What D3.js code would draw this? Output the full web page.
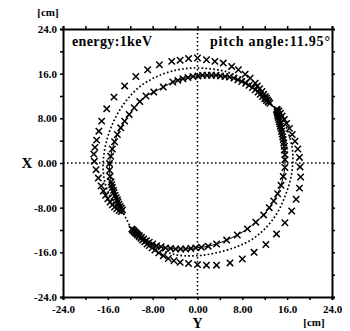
<!DOCTYPE html>
<html>
<head>
<meta charset="utf-8">
<script src="https://cdn.jsdelivr.net/npm/d3@7"></script>
<style>
  body { margin: 0; background: #fff; }
  svg text { font-family: 'Liberation Serif', 'Times New Roman', serif; font-weight: bold; fill: #000; }
</style>
</head>
<body>
<div id="chart"></div>
<script>
// axis ticks and labels
const tickValues = [-24, -20, -16, -12, -8, -4, 0, 4, 8, 12, 16, 20, 24];
const labelValues = [-24, -16, -8, 0, 8, 16, 24];
const labelTexts = ['-24.0', '-16.0', '-8.00', '0.00', '8.00', '16.0', '24.0'];

// points are [V, X] in cm
// outer crosses, first arc (NE -> over the top -> W)
const outerA = [
  [12.9, 10.7], [12.7, 11.0], [12.5, 11.3], [12.3, 11.6], [12.1, 11.9], [11.8, 12.3],
  [11.5, 12.8], [11.1, 13.3], [10.7, 13.8], [10.3, 14.3], [9.4, 15.2], [8.5, 15.9],
  [7.3, 16.7], [6.1, 17.3], [4.6, 17.9], [3.1, 18.2], [1.6, 18.5], [0.0, 18.8],
  [-1.6, 18.7], [-3.1, 18.4], [-4.6, 18.2], [-6.8, 17.6], [-8.9, 16.7], [-11.0, 15.5],
  [-13.0, 13.8], [-14.9, 11.8], [-16.2, 9.7], [-17.1, 7.5], [-17.6, 5.7], [-18.0, 4.1],
  [-18.3, 2.8], [-18.5, 1.6], [-18.4, 0.3], [-18.1, -1.2], [-17.7, -2.7], [-17.2, -4.1],
  [-16.8, -5.0], [-16.4, -5.8], [-16.0, -6.4], [-15.6, -7.0], [-15.2, -7.5], [-14.8, -7.9],
  [-14.4, -8.2], [-14.0, -8.5], [-13.6, -8.7]
];
// outer crosses, second arc (SSW -> under the bottom -> E)
const outerB = [
  [-11.6, -12.0], [-11.3, -12.3], [-11.0, -12.6], [-10.7, -12.9], [-10.4, -13.2], [-10.1, -13.5],
  [-9.8, -13.8], [-9.4, -14.1], [-9.0, -14.5], [-8.6, -14.8], [-8.1, -15.2], [-7.6, -15.6],
  [-6.9, -16.1], [-6.1, -16.6], [-5.2, -17.1], [-4.2, -17.5], [-3.1, -17.8], [-1.6, -18.0],
  [0.0, -18.2], [1.6, -18.3], [3.4, -18.3], [5.8, -17.9], [8.0, -17.2], [10.1, -16.0],
  [12.2, -14.6], [14.1, -12.7], [15.6, -10.7], [16.8, -8.6], [17.6, -6.5], [18.2, -4.5],
  [18.4, -2.5], [18.3, -0.7], [18.2, 1.0], [17.9, 2.5], [17.4, 3.9], [16.9, 5.1],
  [16.4, 6.2], [15.9, 7.1], [15.5, 7.8], [15.1, 8.4], [14.8, 8.9], [14.5, 9.3],
  [14.2, 9.6]
];
// inner crosses joined by a line
const innerA = [
  [12.6, 10.9], [12.3, 11.2], [12.0, 11.5], [11.6, 11.9], [11.2, 12.3], [10.8, 12.7],
  [10.3, 13.1], [9.8, 13.5], [9.2, 13.9], [8.6, 14.3], [7.9, 14.6], [7.2, 14.9],
  [6.5, 15.2], [5.7, 15.4], [4.9, 15.5], [4.1, 15.6], [3.3, 15.7], [2.5, 15.7],
  [1.7, 15.7], [0.9, 15.7], [0.1, 15.6], [-0.8, 15.5], [-1.7, 15.3], [-2.6, 15.1],
  [-3.5, 14.8], [-4.4, 14.5], [-6.1, 13.6], [-7.8, 12.7], [-9.2, 12.0], [-10.3, 11.0],
  [-11.3, 9.9], [-12.2, 8.7], [-13.0, 7.5], [-13.7, 6.3], [-14.3, 5.1], [-14.8, 3.8],
  [-15.2, 2.5], [-15.5, 1.2], [-15.7, -0.1], [-15.7, -1.3], [-15.6, -2.4], [-15.4, -3.4],
  [-15.3, -3.9], [-15.2, -4.4], [-15.0, -4.9], [-14.9, -5.3], [-14.7, -5.8], [-14.5, -6.2],
  [-14.3, -6.6], [-14.2, -7.0], [-14.0, -7.4], [-13.8, -7.8], [-13.6, -8.1], [-13.4, -8.4]
];
const innerB = [
  [-11.7, -11.8], [-11.4, -12.1], [-11.1, -12.4], [-10.8, -12.7], [-10.4, -13.0], [-10.0, -13.3],
  [-9.6, -13.6], [-9.1, -13.9], [-8.6, -14.2], [-8.0, -14.5], [-7.3, -14.8], [-6.5, -15.0],
  [-5.7, -15.2], [-4.8, -15.3], [-3.9, -15.4], [-3.0, -15.4], [-2.1, -15.4], [-1.2, -15.3],
  [-0.3, -15.2], [0.7, -15.1], [1.9, -14.9], [3.4, -14.5], [5.2, -13.8], [7.1, -12.9],
  [8.9, -11.8], [10.4, -10.6], [11.8, -9.3], [12.8, -8.0], [13.6, -6.8], [14.3, -5.5],
  [14.9, -4.0], [15.3, -2.4], [15.6, -0.8], [15.6, 0.6], [15.6, 1.5], [15.5, 2.3],
  [15.5, 3.0], [15.4, 3.6], [15.3, 4.2], [15.2, 4.7], [15.1, 5.2], [15.0, 5.7],
  [14.9, 6.2], [14.8, 6.6], [14.7, 7.0], [14.6, 7.4], [14.5, 7.8], [14.4, 8.2],
  [14.3, 8.5], [14.3, 8.8], [14.2, 9.1], [14.2, 9.4], [14.1, 9.6]
];
// dotted guiding orbit (closed)
const dottedOrbit = [
  [12.4, 11.0], [10.5, 13.2], [8.0, 15.1], [5.0, 16.4], [2.0, 16.9], [-1.0, 17.0],
  [-4.0, 16.6], [-7.0, 15.6], [-10.0, 13.9], [-12.6, 11.3], [-14.7, 8.0], [-16.1, 4.4],
  [-16.8, 0.6], [-16.7, -2.6], [-16.0, -5.1], [-14.8, -7.3], [-13.5, -8.6], [-12.6, -10.2],
  [-11.7, -11.8], [-9.9, -13.5], [-7.7, -15.0], [-4.0, -16.4], [0.0, -16.6], [3.7, -16.0],
  [7.0, -15.0], [9.7, -13.7], [12.0, -11.8], [14.2, -9.0], [15.6, -6.0], [16.6, -2.9],
  [17.0, 0.0], [16.9, 2.6], [16.2, 5.4], [15.2, 7.8], [14.2, 9.5], [13.3, 10.3]
];

const W = 350, H = 331;
const margin = { left: 63, right: 332, top: 29, bottom: 297 };

const svg = d3.select('#chart')
  .append('svg')
  .attr('width', W)
  .attr('height', H);

const x = d3.scaleLinear().domain([-24, 24]).range([margin.left, margin.right]);
const y = d3.scaleLinear().domain([-24, 24]).range([margin.bottom, margin.top]);

// dotted zero lines
svg.append('line')
  .attr('x1', margin.left).attr('x2', margin.right)
  .attr('y1', y(0)).attr('y2', y(0))
  .attr('stroke', '#000').attr('stroke-width', 1.6)
  .attr('stroke-dasharray', '1.6,2.4');
svg.append('line')
  .attr('x1', x(0)).attr('x2', x(0))
  .attr('y1', margin.top).attr('y2', margin.bottom)
  .attr('stroke', '#000').attr('stroke-width', 1.6)
  .attr('stroke-dasharray', '1.6,2.4');

const line = d3.line()
  .x(d => x(d[0]))
  .y(d => y(d[1]));

// dotted orbit
svg.append('path')
  .datum(dottedOrbit)
  .attr('d', line.curve(d3.curveCatmullRomClosed))
  .attr('fill', 'none')
  .attr('stroke', '#000')
  .attr('stroke-width', 1.7)
  .attr('stroke-dasharray', '1.7,2.2');

// thin line through the inner crosses
line.curve(d3.curveCatmullRom);
[innerA, innerB].forEach(arc => {
  svg.append('path')
    .datum(arc)
    .attr('d', line)
    .attr('fill', 'none')
    .attr('stroke', '#000')
    .attr('stroke-width', 1);
});

const cross = 'M-3.2,-3.2L3.2,3.2M-3.2,3.2L3.2,-3.2';
const drawCrosses = (data) => {
  svg.append('g')
    .selectAll('path')
    .data(data)
    .enter()
    .append('path')
    .attr('d', cross)
    .attr('transform', d => 'translate(' + x(d[0]) + ',' + y(d[1]) + ')')
    .attr('fill', 'none')
    .attr('stroke', '#000')
    .attr('stroke-width', 1.5);
};
drawCrosses(outerA);
drawCrosses(outerB);
drawCrosses(innerA);
drawCrosses(innerB);

// frame with ticks
const fmt = v => {
  const i = labelValues.indexOf(v);
  return i >= 0 ? labelTexts[i] : '';
};

const axisB = svg.append('g')
  .attr('transform', 'translate(0,' + margin.bottom + ')')
  .call(d3.axisBottom(x).tickValues(tickValues).tickFormat(fmt).tickSize(3).tickPadding(5));
const axisL = svg.append('g')
  .attr('transform', 'translate(' + margin.left + ',0)')
  .call(d3.axisLeft(y).tickValues(tickValues).tickFormat(fmt).tickSize(3).tickPadding(3));
const axisT = svg.append('g')
  .attr('transform', 'translate(0,' + margin.top + ')')
  .call(d3.axisTop(x).tickValues(tickValues).tickFormat('').tickSize(3));
const axisR = svg.append('g')
  .attr('transform', 'translate(' + margin.right + ',0)')
  .call(d3.axisRight(y).tickValues(tickValues).tickFormat('').tickSize(3));

[axisB, axisL, axisT, axisR].forEach(g => {
  g.attr('font-family', null).attr('font-size', 11);
  g.select('.domain').attr('stroke', '#000').attr('stroke-width', 2);
  g.selectAll('.tick line').attr('stroke', '#000').attr('stroke-width', 1.5);
  g.selectAll('text').attr('fill', '#000');
});

// titles
svg.append('text').attr('x', 48).attr('y', 16).attr('text-anchor', 'middle')
  .attr('font-size', 11).text('[cm]');
svg.append('text').attr('x', 314).attr('y', 326).attr('text-anchor', 'middle')
  .attr('font-size', 11).text('[cm]');
svg.append('text').attr('x', 27).attr('y', 168).attr('text-anchor', 'middle')
  .attr('font-size', 15).text('X');
svg.append('text').attr('x', x(0)).attr('y', 328).attr('text-anchor', 'middle')
  .attr('font-size', 14).text('Y');

svg.append('text').attr('x', 72).attr('y', 46)
  .attr('font-size', 14).attr('textLength', 80).text('energy:1keV');
svg.append('text').attr('x', 330).attr('y', 46).attr('text-anchor', 'end')
  .attr('font-size', 14).attr('textLength', 120).text('pitch angle:11.95°');
</script>
</body>
</html>
